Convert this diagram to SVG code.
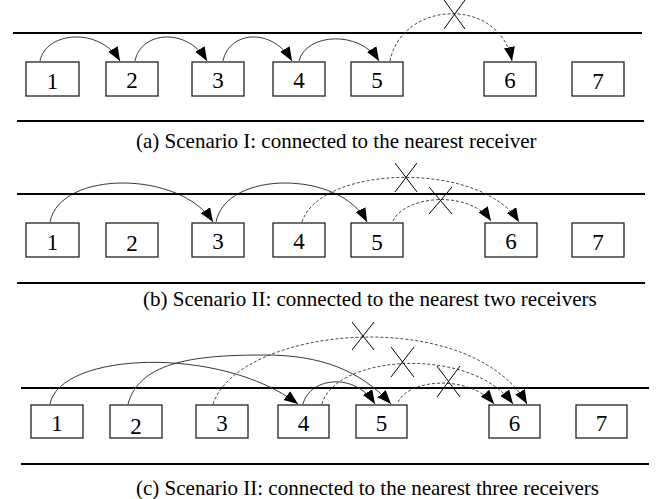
<svg xmlns="http://www.w3.org/2000/svg" width="672" height="499" viewBox="0 0 672 499">
  <style>
    .rail { stroke: #000; stroke-width: 2; fill: none; }
    .box rect { fill: #fff; stroke: #222; stroke-width: 1.3; }
    .box text { font-family: "Liberation Serif", "Times New Roman", serif; font-size: 23px; fill: #000; text-anchor: middle; }
    .cap { font-family: "Liberation Serif", "Times New Roman", serif; font-size: 21px; fill: #000; }
    .link { fill: none; stroke: #222; stroke-width: 0.9; marker-end: url(#head); }
    .lost { fill: none; stroke: #333; stroke-width: 0.9; stroke-dasharray: 3 2; marker-end: url(#head); }
    .cross { stroke: #000; stroke-width: 1; fill: none; }
  </style>
  <defs>
    <marker id="head" markerUnits="userSpaceOnUse" markerWidth="15" markerHeight="12" refX="14" refY="5.5" orient="auto">
      <path d="M0,0 L14,5.5 L0,11 z" fill="#000"/>
    </marker>
  </defs>
  <rect width="672" height="499" fill="#fff"/>

  <!-- (a) nearest receiver -->
  <g id="rails-a">
    <line class="rail" x1="13" y1="33" x2="642" y2="33"/>
    <line class="rail" x1="17" y1="121" x2="644" y2="121"/>
  </g>
  <g id="a1" class="box"><rect x="26" y="62" width="53" height="34"/><text x="52.5" y="89">1</text></g>
  <g id="a2" class="box"><rect x="106" y="62" width="52" height="34"/><text x="132" y="88">2</text></g>
  <g id="a3" class="box"><rect x="192" y="62" width="52" height="34"/><text x="218" y="88">3</text></g>
  <g id="a4" class="box"><rect x="273" y="62" width="52" height="34"/><text x="299" y="88">4</text></g>
  <g id="a5" class="box"><rect x="351" y="62" width="52" height="34"/><text x="377" y="88">5</text></g>
  <g id="a6" class="box"><rect x="484" y="62" width="52" height="34"/><text x="510" y="88">6</text></g>
  <g id="a7" class="box"><rect x="572" y="62" width="52" height="34"/><text x="598" y="89">7</text></g>
  <g id="links-a">
    <path class="link" d="M40,61 C46,31 100,27 120,61"/>
    <path class="link" d="M135,61 C141,31 187,27 207,61"/>
    <path class="link" d="M223,61 C229,31 272,27 292,61"/>
    <path class="link" d="M299,61 C306,33 360,30 379,61"/>
    <path class="lost" d="M390,61 C402,0 500,-4 512,61"/>
    <path class="cross" d="M444,0 L465,29 M465,0 L444,29"/>
  </g>
  <text class="cap" x="136" y="148">(a) Scenario I: connected to the nearest receiver</text>

  <!-- (b) nearest two receivers -->
  <g id="rails-b">
    <line class="rail" x1="17" y1="194" x2="645" y2="194"/>
    <line class="rail" x1="17" y1="283" x2="645" y2="283"/>
  </g>
  <g id="b1" class="box"><rect x="26" y="223" width="53" height="34"/><text x="52.5" y="250">1</text></g>
  <g id="b2" class="box"><rect x="106" y="223" width="52" height="34"/><text x="132" y="251">2</text></g>
  <g id="b3" class="box"><rect x="192" y="223" width="52" height="34"/><text x="218" y="249">3</text></g>
  <g id="b4" class="box"><rect x="273" y="223" width="52" height="34"/><text x="299" y="249">4</text></g>
  <g id="b5" class="box"><rect x="351" y="223" width="52" height="34"/><text x="377" y="250">5</text></g>
  <g id="b6" class="box"><rect x="485" y="223" width="52" height="34"/><text x="511" y="249">6</text></g>
  <g id="b7" class="box"><rect x="572" y="223" width="52" height="34"/><text x="598" y="250">7</text></g>
  <g id="links-b">
    <path class="link" d="M50,222 C60,170 180,170 213,222"/>
    <path class="link" d="M216,222 C226,170 340,170 367,222"/>
    <path class="lost" d="M302,222 C320,165 480,160 519,222"/>
    <path class="lost" d="M393,221 C405,195 470,190 491,221"/>
    <path class="cross" d="M395,163 L417,192 M417,163 L395,192"/>
    <path class="cross" d="M429,187 L452,214 M452,187 L429,214"/>
  </g>
  <text class="cap" x="143" y="306">(b) Scenario II: connected to the nearest two receivers</text>

  <!-- (c) nearest three receivers -->
  <g id="rails-c">
    <line class="rail" x1="21" y1="388" x2="649" y2="388"/>
    <line class="rail" x1="21" y1="464" x2="649" y2="464"/>
  </g>
  <g id="c1" class="box"><rect x="31" y="405" width="52" height="33"/><text x="57" y="431">1</text></g>
  <g id="c2" class="box"><rect x="110" y="405" width="52" height="33"/><text x="136" y="434">2</text></g>
  <g id="c3" class="box"><rect x="196" y="405" width="52" height="33"/><text x="222" y="431">3</text></g>
  <g id="c4" class="box"><rect x="278" y="405" width="51" height="33"/><text x="303.5" y="431">4</text></g>
  <g id="c5" class="box"><rect x="356" y="405" width="51" height="33"/><text x="381.5" y="431">5</text></g>
  <g id="c6" class="box"><rect x="489" y="405" width="51" height="33"/><text x="514.5" y="431">6</text></g>
  <g id="c7" class="box"><rect x="576" y="405" width="51" height="33"/><text x="601.5" y="431">7</text></g>
  <g id="links-c">
    <path class="link" d="M50,404 C60,352 220,345 298,404"/>
    <path class="link" d="M128,404 C140,360 200,355 265,355 C320,355 360,370 391,404"/>
    <path class="link" d="M303,404 C310,377 355,372 375,404"/>
    <path class="lost" d="M213,404 C240,325 470,305 527,404"/>
    <path class="lost" d="M322,404 C335,355 470,345 513,404"/>
    <path class="lost" d="M398,402 C410,378 470,375 494,404"/>
    <path class="cross" d="M352,322 L374,350 M374,322 L352,350"/>
    <path class="cross" d="M391,347 L414,377 M414,347 L391,377"/>
    <path class="cross" d="M437,366 L460,397 M460,366 L437,397"/>
  </g>
  <text class="cap" x="136" y="495">(c) Scenario II: connected to the nearest three receivers</text>
</svg>
